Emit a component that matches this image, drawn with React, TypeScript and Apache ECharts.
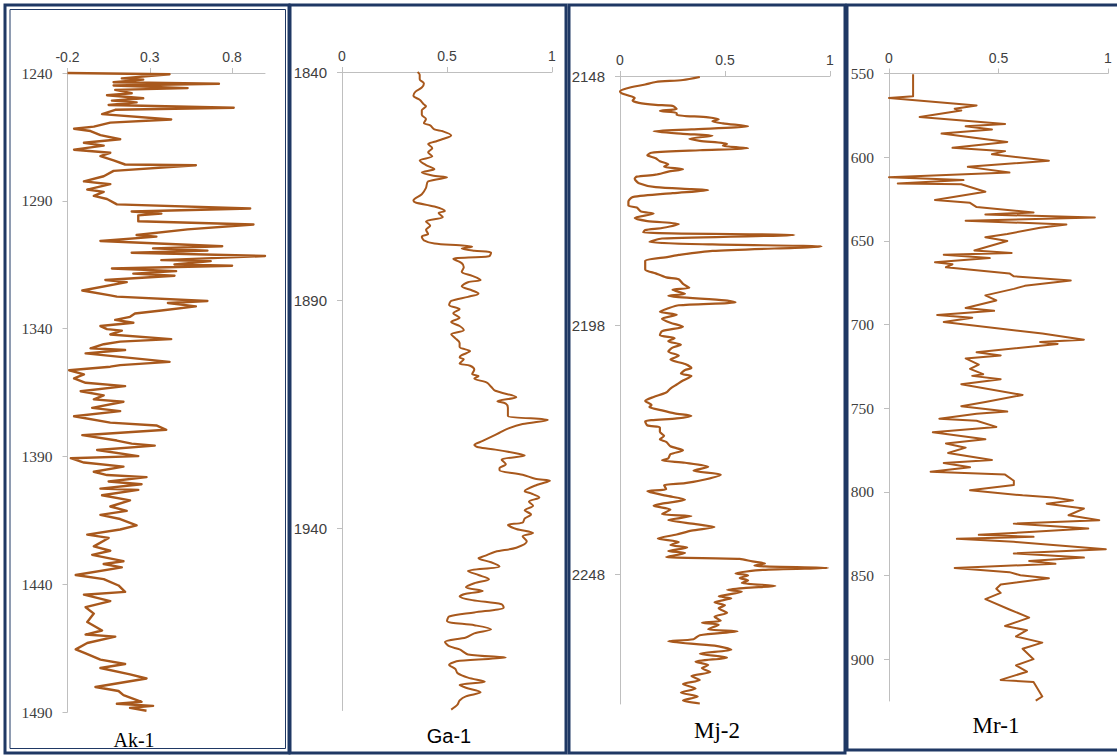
import React, { useEffect, useRef } from "react";
import * as echarts from "echarts";

// ---------- data (depth, value) ----------
const wellNames = ["Ak-1", "Ga-1", "Mj-2", "Mr-1"];

const depthMin = [1240, 1840, 2148, 550];
const depthMax = [1490, 1980, 2274, 925];
const valueMin = [-0.2, 0, 0, 0];
const valueMax = [1.0, 1, 1, 1];

const akLog: [number, number][] = [
  [1240.0, -0.2], [1240.5, 0.42], [1242.1, 0.13], [1242.6, 0.26], [1243.6, 0.08], [1244.2, 0.72],
  [1244.9, 0.08], [1245.9, 0.53], [1246.6, 0.09], [1247.9, 0.19], [1248.7, 0.04], [1249.9, 0.26],
  [1250.8, 0.07], [1251.5, 0.22], [1252.5, 0.05], [1253.6, 0.81], [1254.4, 0.09], [1256.1, 0.01],
  [1258.2, 0.43], [1259.4, 0.06], [1261.0, -0.04], [1261.8, -0.16], [1262.7, -0.06], [1264.3, 0.0],
  [1265.9, 0.12], [1267.3, -0.1], [1268.4, 0.02], [1270.0, -0.16], [1271.2, 0.06], [1272.5, 0.0],
  [1274.2, 0.08], [1275.8, 0.15], [1276.1, 0.58], [1278.3, 0.08], [1280.4, 0.02], [1282.4, -0.1],
  [1283.5, 0.06], [1285.6, -0.08], [1286.5, 0.02], [1288.1, -0.04], [1289.3, 0.04], [1291.4, 0.1],
  [1293.0, 0.91], [1294.2, 0.19], [1295.0, 0.37], [1295.7, 0.23], [1298.0, 0.23], [1299.3, 0.93],
  [1301.2, 0.53], [1303.4, 0.22], [1304.0, 0.34], [1305.7, 0.0], [1307.8, 0.74], [1308.6, 0.32],
  [1309.5, 0.65], [1310.3, 0.19], [1311.6, 1.0], [1313.2, 0.37], [1313.6, 0.67], [1314.9, 0.45],
  [1315.4, 0.8], [1316.5, 0.07], [1317.5, 0.46], [1318.5, 0.2], [1319.3, 0.45], [1321.0, 0.03],
  [1321.8, 0.16], [1325.1, -0.11], [1327.0, 0.06], [1327.5, 0.1], [1329.2, 0.65], [1330.0, 0.41],
  [1331.3, 0.58], [1332.9, 0.37], [1334.1, 0.21], [1335.4, 0.18], [1336.6, 0.09], [1337.7, 0.2],
  [1339.0, 0.0], [1340.2, 0.04], [1340.8, 0.13], [1342.3, 0.06], [1344.1, 0.43], [1345.1, 0.12],
  [1346.1, 0.02], [1347.7, -0.06], [1348.4, 0.15], [1349.7, -0.09], [1353.0, 0.42], [1354.3, 0.12],
  [1354.9, 0.06], [1356.3, -0.19], [1357.9, -0.1], [1359.5, -0.16], [1361.2, -0.09], [1362.5, 0.15],
  [1364.5, -0.12], [1366.1, 0.02], [1367.7, -0.04], [1368.6, 0.14], [1371.0, -0.05], [1372.3, 0.12],
  [1374.3, -0.16], [1376.8, 0.06], [1377.9, 0.34], [1379.6, 0.4], [1381.7, -0.11], [1383.8, 0.1],
  [1385.0, 0.19], [1385.8, 0.33], [1387.5, -0.02], [1389.9, 0.23], [1390.7, -0.18], [1392.4, -0.1],
  [1394.0, 0.14], [1396.0, -0.04], [1397.3, 0.04], [1398.1, 0.28], [1399.8, 0.05], [1400.9, 0.25],
  [1402.6, 0.0], [1403.1, 0.23], [1405.2, 0.01], [1407.2, 0.18], [1409.6, 0.06], [1411.3, 0.16],
  [1412.9, 0.0], [1414.5, 0.12], [1417.0, 0.22], [1418.6, 0.12], [1420.6, -0.08], [1421.9, 0.05],
  [1425.2, -0.04], [1426.9, 0.06], [1428.5, -0.05], [1431.0, 0.14], [1432.1, 0.02], [1433.4, 0.13],
  [1436.4, -0.15], [1438.0, 0.02], [1440.5, 0.11], [1443.0, 0.15], [1444.1, -0.1], [1446.6, 0.06],
  [1449.0, -0.09], [1451.5, -0.04], [1454.8, -0.08], [1458.1, 0.01], [1459.7, -0.09], [1460.5, 0.09],
  [1463.0, -0.08], [1465.5, -0.15], [1467.1, -0.09], [1469.5, 0.0], [1471.2, 0.15], [1472.8, 0.0],
  [1475.3, 0.18], [1476.9, 0.28], [1480.2, -0.03], [1481.8, 0.11], [1483.4, 0.14], [1486.0, 0.25],
  [1486.8, 0.1], [1487.6, 0.32], [1488.4, 0.18], [1489.5, 0.28],
];

const gaLog: [number, number][] = [
  [1840.0, 0.36], [1840.6, 0.37], [1841.6, 0.37], [1842.5, 0.39], [1843.4, 0.38], [1844.3, 0.35],
  [1845.2, 0.34], [1846.1, 0.37], [1847.1, 0.39], [1847.5, 0.4], [1848.4, 0.38], [1849.4, 0.38],
  [1850.3, 0.4], [1851.2, 0.39], [1851.7, 0.42], [1852.6, 0.44], [1853.0, 0.48], [1853.9, 0.52],
  [1854.7, 0.48], [1855.3, 0.44], [1855.8, 0.41], [1856.7, 0.43], [1857.6, 0.41], [1858.5, 0.43],
  [1859.4, 0.37], [1860.4, 0.4], [1861.3, 0.44], [1862.0, 0.38], [1862.7, 0.43], [1863.1, 0.5],
  [1864.0, 0.41], [1865.4, 0.4], [1866.8, 0.38], [1868.2, 0.34], [1868.6, 0.35], [1869.5, 0.44],
  [1870.5, 0.49], [1870.9, 0.46], [1871.8, 0.48], [1872.8, 0.4], [1873.7, 0.42], [1874.6, 0.4],
  [1875.5, 0.41], [1876.1, 0.38], [1876.9, 0.39], [1877.6, 0.44], [1878.0, 0.56], [1878.3, 0.62],
  [1878.7, 0.57], [1879.2, 0.63], [1879.6, 0.71], [1880.4, 0.7], [1881.0, 0.53], [1881.9, 0.57],
  [1882.8, 0.58], [1883.8, 0.57], [1884.7, 0.62], [1885.6, 0.66], [1886.1, 0.6], [1887.0, 0.57],
  [1887.9, 0.62], [1888.6, 0.65], [1889.3, 0.6], [1890.2, 0.52], [1891.1, 0.51], [1892.0, 0.56],
  [1892.9, 0.53], [1893.9, 0.56], [1894.8, 0.52], [1895.7, 0.56], [1896.6, 0.58], [1897.5, 0.52],
  [1898.4, 0.54], [1899.4, 0.56], [1900.3, 0.56], [1901.2, 0.61], [1902.1, 0.57], [1902.6, 0.56],
  [1903.0, 0.58], [1903.9, 0.56], [1904.4, 0.61], [1905.3, 0.63], [1906.2, 0.62], [1906.7, 0.65],
  [1907.2, 0.63], [1908.1, 0.69], [1909.0, 0.71], [1909.9, 0.73], [1911.3, 0.83], [1912.2, 0.74],
  [1912.7, 0.78], [1913.6, 0.79], [1914.5, 0.79], [1915.4, 0.79], [1916.3, 0.98], [1917.2, 0.86],
  [1918.2, 0.79], [1919.1, 0.75], [1920.0, 0.71], [1920.9, 0.67], [1921.8, 0.63], [1922.3, 0.65],
  [1922.8, 0.73], [1923.7, 0.84], [1924.1, 0.87], [1925.0, 0.76], [1926.0, 0.78], [1926.9, 0.75],
  [1927.3, 0.75], [1928.3, 0.86], [1929.2, 0.92], [1929.6, 0.99], [1930.5, 0.93], [1931.9, 0.87],
  [1932.4, 0.9], [1933.3, 0.94], [1934.2, 0.89], [1935.1, 0.91], [1936.1, 0.87], [1937.0, 0.9],
  [1937.9, 0.87], [1938.8, 0.86], [1939.3, 0.79], [1940.2, 0.83], [1941.1, 0.91], [1941.8, 0.86],
  [1942.9, 0.88], [1944.3, 0.83], [1945.2, 0.73], [1946.1, 0.68], [1946.6, 0.65], [1947.5, 0.71],
  [1948.4, 0.75], [1949.4, 0.6], [1950.3, 0.65], [1951.2, 0.7], [1952.1, 0.63], [1953.0, 0.59],
  [1953.8, 0.67], [1954.4, 0.59], [1955.0, 0.56], [1955.8, 0.62], [1956.7, 0.76], [1957.4, 0.77],
  [1958.5, 0.63], [1959.4, 0.51], [1960.4, 0.5], [1961.3, 0.63], [1962.2, 0.71], [1963.1, 0.63],
  [1964.0, 0.59], [1965.0, 0.49], [1965.9, 0.51], [1966.6, 0.56], [1967.7, 0.6], [1968.4, 0.78],
  [1969.1, 0.56], [1970.0, 0.51], [1970.9, 0.54], [1971.8, 0.55], [1972.8, 0.6], [1973.7, 0.68],
  [1974.4, 0.56], [1975.0, 0.59], [1976.0, 0.66], [1976.9, 0.59], [1977.8, 0.56], [1978.7, 0.55],
  [1979.8, 0.52],
];

const mjLog: [number, number][] = [
  [2148.2, 0.38], [2148.8, 0.3], [2149.2, 0.17], [2149.7, 0.12], [2150.5, 0.03], [2151.1, 0.0],
  [2151.5, 0.01], [2151.9, 0.04], [2152.4, 0.07], [2152.9, 0.06], [2153.4, 0.09], [2153.8, 0.17],
  [2154.0, 0.25], [2154.6, 0.27], [2155.0, 0.19], [2155.4, 0.27], [2155.8, 0.27], [2156.3, 0.42],
  [2156.7, 0.47], [2157.1, 0.44], [2157.5, 0.49], [2158.1, 0.61], [2158.7, 0.34], [2159.1, 0.16],
  [2159.6, 0.3], [2160.0, 0.44], [2160.6, 0.33], [2161.0, 0.38], [2161.6, 0.51], [2162.0, 0.49],
  [2162.5, 0.61], [2162.9, 0.38], [2163.4, 0.15], [2163.9, 0.13], [2164.5, 0.17], [2165.1, 0.19],
  [2165.7, 0.23], [2166.2, 0.21], [2166.7, 0.3], [2167.2, 0.23], [2167.8, 0.17], [2168.2, 0.08],
  [2168.6, 0.07], [2169.5, 0.09], [2170.3, 0.17], [2170.7, 0.34], [2170.9, 0.42], [2171.5, 0.25],
  [2172.3, 0.06], [2173.2, 0.04], [2174.0, 0.04], [2174.4, 0.08], [2175.2, 0.1], [2175.6, 0.16],
  [2176.5, 0.07], [2177.1, 0.13], [2177.7, 0.28], [2178.5, 0.2], [2178.9, 0.12], [2179.4, 0.11],
  [2179.9, 0.83], [2180.6, 0.2], [2181.3, 0.14], [2181.8, 0.44], [2182.2, 0.96], [2183.1, 0.44],
  [2183.9, 0.28], [2184.3, 0.23], [2185.1, 0.12], [2186.0, 0.12], [2186.8, 0.12], [2187.6, 0.17],
  [2188.4, 0.22], [2188.8, 0.28], [2189.7, 0.3], [2190.5, 0.33], [2190.9, 0.25], [2191.7, 0.31],
  [2192.1, 0.23], [2193.0, 0.5], [2193.4, 0.55], [2194.0, 0.28], [2194.6, 0.23], [2195.3, 0.19],
  [2195.9, 0.27], [2196.7, 0.2], [2197.5, 0.24], [2198.3, 0.3], [2199.2, 0.2], [2200.0, 0.19],
  [2200.6, 0.26], [2201.2, 0.23], [2201.9, 0.29], [2202.5, 0.25], [2203.3, 0.23], [2204.1, 0.28],
  [2204.9, 0.24], [2205.8, 0.31], [2206.6, 0.34], [2207.0, 0.31], [2207.7, 0.29], [2208.2, 0.34],
  [2209.1, 0.3], [2209.9, 0.27], [2210.7, 0.24], [2211.5, 0.22], [2212.4, 0.16], [2213.2, 0.12],
  [2214.0, 0.15], [2214.4, 0.14], [2215.1, 0.2], [2215.7, 0.26], [2216.2, 0.34], [2216.7, 0.27],
  [2217.3, 0.12], [2218.1, 0.13], [2218.5, 0.19], [2219.4, 0.19], [2220.2, 0.21], [2220.9, 0.19],
  [2221.4, 0.22], [2222.3, 0.24], [2223.1, 0.3], [2223.9, 0.24], [2224.7, 0.23], [2225.1, 0.2],
  [2225.6, 0.31], [2226.4, 0.42], [2227.2, 0.35], [2228.0, 0.48], [2228.9, 0.41], [2229.7, 0.31],
  [2230.1, 0.21], [2230.9, 0.22], [2231.3, 0.13], [2232.2, 0.22], [2233.0, 0.31], [2233.8, 0.2],
  [2234.2, 0.16], [2235.0, 0.24], [2235.9, 0.2], [2236.3, 0.34], [2237.1, 0.23], [2237.9, 0.36],
  [2238.5, 0.45], [2239.2, 0.34], [2240.0, 0.27], [2240.8, 0.18], [2241.5, 0.28], [2242.1, 0.24],
  [2242.6, 0.32], [2243.3, 0.23], [2243.7, 0.31], [2244.5, 0.22], [2244.9, 0.57], [2245.4, 0.63],
  [2245.8, 0.69], [2246.2, 0.64], [2246.4, 0.69], [2246.7, 0.99], [2247.1, 0.68], [2247.8, 0.55],
  [2248.2, 0.61], [2248.7, 0.57], [2249.2, 0.61], [2249.7, 0.58], [2250.3, 0.74], [2250.7, 0.6],
  [2251.1, 0.51], [2251.5, 0.58], [2252.4, 0.47], [2252.8, 0.53], [2253.6, 0.45], [2254.2, 0.5],
  [2254.8, 0.47], [2255.7, 0.51], [2256.5, 0.45], [2257.3, 0.48], [2257.7, 0.39], [2258.1, 0.47],
  [2259.0, 0.42], [2259.4, 0.56], [2260.2, 0.38], [2261.0, 0.35], [2261.4, 0.23], [2262.3, 0.45],
  [2263.1, 0.53], [2263.9, 0.38], [2264.7, 0.51], [2265.5, 0.36], [2266.2, 0.42], [2266.8, 0.39],
  [2267.6, 0.43], [2268.4, 0.34], [2269.2, 0.38], [2270.0, 0.3], [2270.9, 0.36], [2271.7, 0.29],
  [2272.5, 0.37], [2273.3, 0.3], [2273.9, 0.38],
];

const mrLog: [number, number][] = [
  [550.5, 0.11], [563.6, 0.11], [564.6, 0.0], [569.1, 0.4], [571.1, 0.3], [572.1, 0.33],
  [576.0, 0.14], [580.2, 0.53], [581.5, 0.35], [583.5, 0.47], [585.9, 0.24], [590.9, 0.54],
  [594.4, 0.29], [596.4, 0.53], [598.3, 0.47], [602.1, 0.73], [605.8, 0.36], [609.2, 0.55],
  [612.0, 0.0], [613.7, 0.34], [615.7, 0.04], [616.2, 0.33], [620.7, 0.44], [625.6, 0.21],
  [627.3, 0.37], [629.8, 0.4], [633.0, 0.66], [634.3, 0.44], [636.0, 0.94], [638.0, 0.35],
  [640.2, 0.81], [642.2, 0.69], [645.9, 0.54], [647.9, 0.44], [650.1, 0.54], [655.8, 0.39],
  [657.3, 0.56], [658.3, 0.25], [660.3, 0.46], [662.8, 0.21], [664.0, 0.29], [665.8, 0.26],
  [669.5, 0.55], [671.2, 0.57], [673.7, 0.83], [676.9, 0.62], [678.7, 0.57], [682.6, 0.44],
  [685.6, 0.49], [690.1, 0.35], [691.8, 0.48], [694.3, 0.22], [696.0, 0.38], [698.5, 0.25],
  [705.4, 0.7], [709.1, 0.89], [710.4, 0.69], [711.6, 0.77], [716.6, 0.4], [718.5, 0.51],
  [720.3, 0.35], [724.0, 0.41], [726.5, 0.37], [729.7, 0.43], [730.7, 0.38], [732.7, 0.51],
  [735.7, 0.33], [742.1, 0.61], [746.3, 0.44], [748.8, 0.33], [752.0, 0.54], [753.3, 0.4],
  [756.3, 0.23], [757.5, 0.4], [761.2, 0.49], [764.4, 0.2], [768.6, 0.44], [771.1, 0.26],
  [773.6, 0.35], [776.8, 0.27], [781.0, 0.47], [782.8, 0.25], [785.3, 0.37], [788.0, 0.19],
  [789.7, 0.53], [793.4, 0.57], [795.9, 0.57], [799.1, 0.37], [802.1, 0.61], [803.4, 0.75],
  [805.1, 0.84], [807.1, 0.72], [810.0, 0.89], [814.0, 0.82], [817.0, 0.96], [819.0, 0.57],
  [821.9, 0.91], [823.9, 0.66], [825.7, 0.41], [826.9, 0.66], [828.1, 0.31], [829.9, 0.57],
  [834.3, 0.99], [836.8, 0.57], [839.3, 0.89], [841.3, 0.64], [843.0, 0.76], [845.5, 0.3],
  [848.0, 0.55], [849.9, 0.6], [851.7, 0.73], [855.4, 0.51], [857.9, 0.49], [860.4, 0.51],
  [864.1, 0.44], [870.3, 0.55], [875.2, 0.64], [880.2, 0.53], [882.7, 0.63], [886.4, 0.58],
  [890.1, 0.7], [893.8, 0.61], [900.0, 0.66], [903.7, 0.58], [907.5, 0.63], [912.4, 0.51],
  [913.7, 0.66], [922.3, 0.7], [924.8, 0.67],
];

const wellLogs = [akLog, gaLog, mjLog, mrLog];

// ---------- layout / style ----------
const gridBoxes = [
  { left: 67.5, top: 73, width: 197.5, height: 639 },
  { left: 342, top: 72, width: 210, height: 638.5 },
  { left: 620, top: 76, width: 210, height: 628 },
  { left: 889, top: 73.5, width: 219, height: 627.5 },
];
const showMaxX = [false, true, true, true];
const showMaxY = [true, false, false, false];
const lineWidths = [2.4, 2, 2.2, 2];
const smoothness = [0, 0.3, 0.25, 0];

const BROWN = "#A8581C";
const NAVY = "#1F3864";
const AXIS_GRAY = "#BFBFBF";
const LABEL = "#404040";
const SANS = "'Liberation Sans', Arial, sans-serif";
const SERIF = "'Liberation Serif', 'Times New Roman', serif";

export default function App() {
  const ref = useRef<HTMLDivElement>(null);

  useEffect(() => {
    document.body.style.margin = "0";
    if (!ref.current) return;
    const chart = echarts.init(ref.current, undefined, { renderer: "svg" });

    const fmt1 = (v: number) => String(Math.round(v * 10) / 10);

    const option: any = {
      animation: false,
      backgroundColor: "#ffffff",
      grid: gridBoxes.map((g) => ({ ...g, containLabel: false })),
      xAxis: wellNames.map((_, i) => ({
        gridIndex: i,
        type: "value",
        position: "top",
        min: valueMin[i],
        max: valueMax[i],
        interval: 0.5,
        axisLine: { show: true, onZero: false, lineStyle: { color: AXIS_GRAY, width: 1 } },
        axisTick: { show: true, length: 5, lineStyle: { color: AXIS_GRAY } },
        splitLine: { show: false },
        axisLabel: {
          margin: 9,
          color: LABEL,
          fontSize: 14,
          fontFamily: SANS,
          showMaxLabel: showMaxX[i],
          formatter: fmt1,
        },
      })),
      yAxis: wellNames.map((_, i) => ({
        gridIndex: i,
        type: "value",
        inverse: true,
        min: depthMin[i],
        max: depthMax[i],
        interval: 50,
        axisLine: { show: true, onZero: false, lineStyle: { color: AXIS_GRAY, width: 1 } },
        axisTick: { show: true, length: 5, lineStyle: { color: AXIS_GRAY } },
        splitLine: { show: false },
        axisLabel: {
          margin: 15,
          color: LABEL,
          fontSize: i === 0 || i === 3 ? 15.5 : 15,
          fontFamily: i === 0 || i === 3 ? SERIF : SANS,
          showMaxLabel: showMaxY[i],
          showMinLabel: true,
          formatter: (v: number) => String(Math.round(v)),
        },
      })),
      series: wellLogs.map((log, i) => ({
        name: wellNames[i],
        type: "line",
        xAxisIndex: i,
        yAxisIndex: i,
        data: log.map(([d, v]) => [v, d]),
        symbol: "none",
        showSymbol: false,
        smooth: smoothness[i] || false,
        lineStyle: { color: BROWN, width: lineWidths[i], join: "round" },
        clip: false,
      })),
      graphic: [
        // panel frames
        { type: "rect", silent: true, z: 100, shape: { x: 5, y: 5, width: 284, height: 748 }, style: { fill: "none", stroke: NAVY, lineWidth: 3 } },
        { type: "rect", silent: true, z: 100, shape: { x: 10, y: 9.5, width: 275.5, height: 739 }, style: { fill: "none", stroke: NAVY, lineWidth: 1 } },
        { type: "rect", silent: true, z: 100, shape: { x: 290, y: 5, width: 276, height: 748 }, style: { fill: "none", stroke: NAVY, lineWidth: 3 } },
        { type: "rect", silent: true, z: 100, shape: { x: 569, y: 5, width: 276, height: 748 }, style: { fill: "none", stroke: NAVY, lineWidth: 3 } },
        { type: "rect", silent: true, z: 100, shape: { x: 847, y: 5, width: 290, height: 745 }, style: { fill: "none", stroke: NAVY, lineWidth: 3 } },
        // well titles
        { type: "text", x: 134, y: 740, style: { text: wellNames[0], font: `20px ${SERIF}`, fill: "#000", align: "center", verticalAlign: "middle", textAlign: "center", textVerticalAlign: "middle" } },
        { type: "text", x: 449, y: 736, style: { text: wellNames[1], font: `20px ${SANS}`, fill: "#000", align: "center", verticalAlign: "middle", textAlign: "center", textVerticalAlign: "middle" } },
        { type: "text", x: 717, y: 730.5, style: { text: wellNames[2], font: `23px ${SERIF}`, fill: "#000", align: "center", verticalAlign: "middle", textAlign: "center", textVerticalAlign: "middle" } },
        { type: "text", x: 996, y: 725, style: { text: wellNames[3], font: `23px ${SERIF}`, fill: "#000", align: "center", verticalAlign: "middle", textAlign: "center", textVerticalAlign: "middle" } },
      ],
    };

    chart.setOption(option);
    return () => chart.dispose();
  }, []);

  return <div ref={ref} style={{ width: 1117, height: 756 }} />;
}
